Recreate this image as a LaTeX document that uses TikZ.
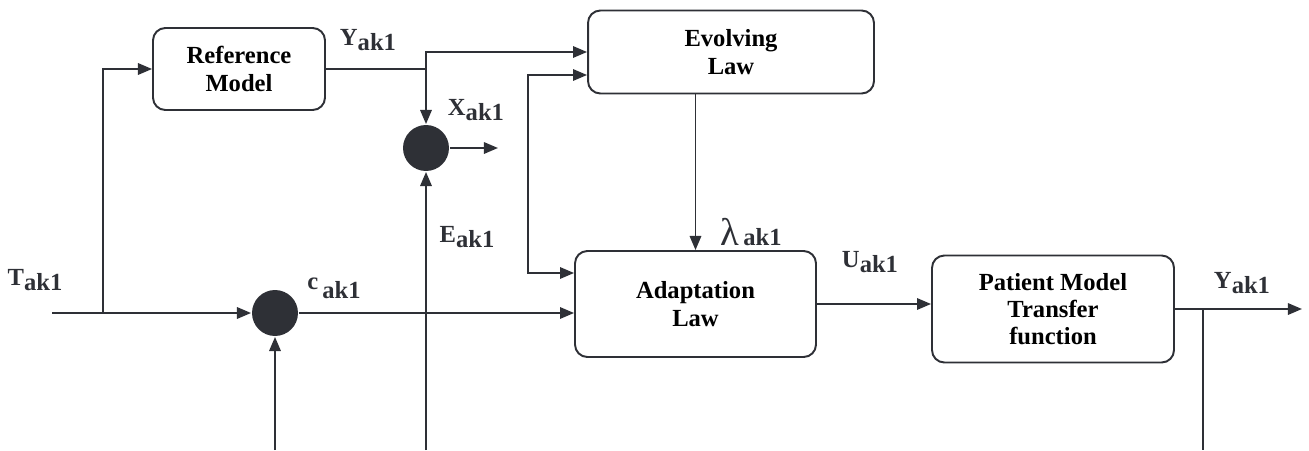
\documentclass[tikz,border=0pt]{standalone}
\usepackage{fontspec}
\setmainfont{Liberation Serif}
\usetikzlibrary{arrows.meta}
\definecolor{ink}{HTML}{2E3036}
\newcommand{\sig}[2]{#1\raisebox{-0.45ex}{#2}}
\tikzset{
  block/.style={draw=ink, line width=1.1pt, rounded corners=7pt, align=center,
    font=\fontsize{14}{15.5}\selectfont\bfseries, inner sep=2pt},
  sumnode/.style={circle, fill=ink, minimum size=0.92cm, inner sep=0pt},
  lbl/.style={font=\fontsize{14}{15}\selectfont\bfseries, text=ink, inner sep=0pt},
  >={Triangle[length=8pt,width=6.5pt]}
}
\begin{document}
\begin{tikzpicture}[x=0.02cm, y=-0.02cm, line width=1.1pt, draw=ink]
\useasboundingbox (0,0) rectangle (1309,450);
% blocks
\node (ref) [block, minimum width=3.44cm, minimum height=1.64cm] at (239,69) {Reference\\Model};
\node (evolve) [block, minimum width=5.72cm, minimum height=1.66cm] at (731,52) {Evolving\\Law};
\node (adapt) [block, minimum width=4.82cm, minimum height=2.12cm] at (695.5,304) {Adaptation\\Law};
\node (patient) [block, minimum width=4.84cm, minimum height=2.14cm] at (1053,309) {Patient Model\\Transfer\\function};
% summing points
\node (sumX) [sumnode] at (426,148) {};
\node (sumC) [sumnode] at (275,313) {};
% free ends and branch points
\coordinate (in) at (52,313);
\coordinate (split) at (103,313);
\coordinate (j1) at (426,69);
\coordinate (xout) at (498,148);
\coordinate (cbot) at (275,450);
\coordinate (ebot) at (426,450);
\coordinate (fbtop) at (528,75);
\coordinate (fbbot) at (528,273);
\coordinate (yout) at (1302,309);
\coordinate (split2) at (1203,309);
\coordinate (ybot) at (1203,450);
% labels
\node (lT) [lbl] at (35,280) {\sig{T}{ak1}};
\node (lY1) [lbl] at (368,40) {\sig{Y}{ak1}};
\node (lX) [lbl] at (476,110) {\sig{X}{ak1}};
\node (lE) [lbl] at (467,237) {\sig{E}{ak1}};
\node (lC) [lbl] at (334,288) {\raisebox{0.5ex}{c}\,\raisebox{-0.3ex}{ak1}};
\node (lL) [lbl] at (751,232) {{\fontsize{22}{22}\selectfont\mdseries λ}\,ak1};
\node (lU) [lbl] at (870,262) {\sig{U}{ak1}};
\node (lY2) [lbl] at (1242,283) {\sig{Y}{ak1}};
% connectors
\draw[->] (in) -- (sumC);
\draw[->] (split) |- (ref);
\draw (ref) -- (j1);
\draw[->] (j1) |- (evolve.west |- 0,52);
\draw[->] (j1) -- (sumX);
\draw[->] (sumX) -- (xout);
\draw[->] (ebot) -- (sumX);
\draw[->] (cbot) -- (sumC);
\draw[->] (sumC) -- (adapt.west |- sumC);
\draw[<->] (fbtop -| evolve.west) -- (fbtop) -- (fbbot) -- (fbbot -| adapt.west);
\draw[->] (evolve.south -| adapt) -- (adapt);
\draw[->] (adapt.east) -- (adapt.east -| patient.west);
\draw[->] (patient) -- (yout);
\draw (split2) -- (ybot);
\end{tikzpicture}
\end{document}
